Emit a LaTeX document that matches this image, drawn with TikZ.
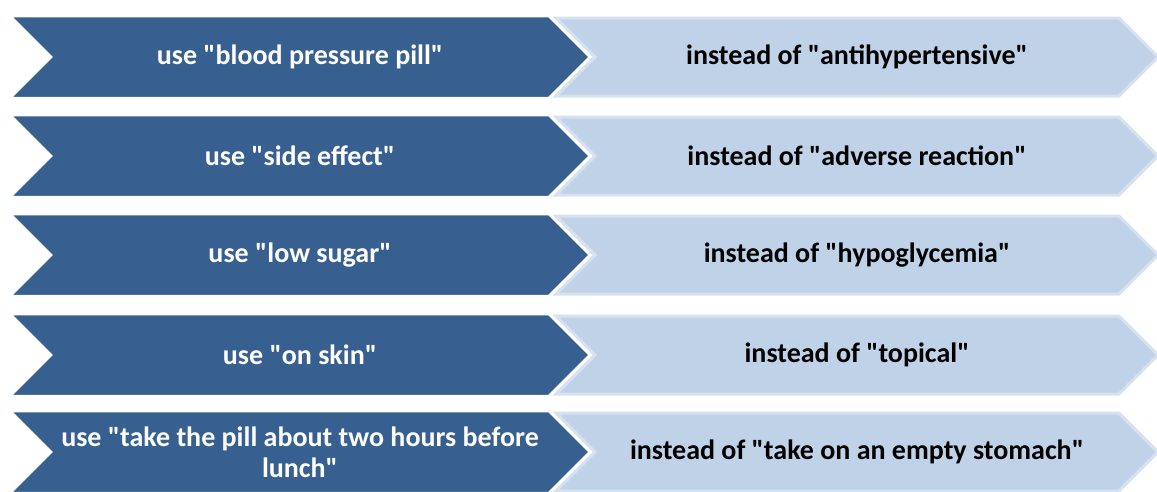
\documentclass[tikz,border=0pt]{standalone}
\usepackage{fontspec}
\setmainfont{Carlito}
\usepackage{tikz}
\usetikzlibrary{shapes.symbols}
\definecolor{usedark}{RGB}{55,96,145}
\definecolor{insteadlight}{RGB}{192,210,232}
\definecolor{insteadedge}{RGB}{214,226,240}
\newcommand{\dq}{\textquotedbl}

\begin{document}
\begin{tikzpicture}[x=1pt, y=1pt,
  usebox/.style={signal, signal from=west, signal to=east, signal pointer angle=90, draw=white, line width=2.5pt, fill=usedark, minimum width=580pt, minimum height=82pt, inner sep=0pt, text=white, font=\fontsize{28}{31}\selectfont\bfseries, align=center},
  insteadbox/.style={signal, signal from=west, signal to=east, signal pointer angle=90, draw=insteadedge, line width=3pt, fill=insteadlight, minimum width=602pt, minimum height=78pt, inner sep=0pt, text=black, font=\fontsize{28}{31}\selectfont\bfseries, align=center}
]
\useasboundingbox (0,0) rectangle (1157,-491);

% right column (drawn first, dark arrows overlap it)
\node[insteadbox] (I1) at (857,-57)  {instead of \dq antihypertensive\dq};
\node[insteadbox] (I2) at (857,-156) {instead of \dq adverse reaction\dq};
\node[insteadbox] (I3) at (857,-255) {instead of \dq hypoglycemia\dq};
\node[insteadbox] (I4) at (857,-355) {instead of \dq topical\dq};
\node[insteadbox] (I5) at (857,-452) {instead of \dq take on an empty stomach\dq};

% left column
\node[usebox] (U1) at (300,-57)  {use \dq blood pressure pill\dq};
\node[usebox] (U2) at (300,-156) {use \dq side effect\dq};
\node[usebox] (U3) at (300,-255) {use \dq low sugar\dq};
\node[usebox] (U4) at (300,-355) {use \dq on skin\dq};
\node[usebox] (U5) at (300,-452) {use \dq take the pill about two hours before\\lunch\dq};

\end{tikzpicture}
\end{document}
